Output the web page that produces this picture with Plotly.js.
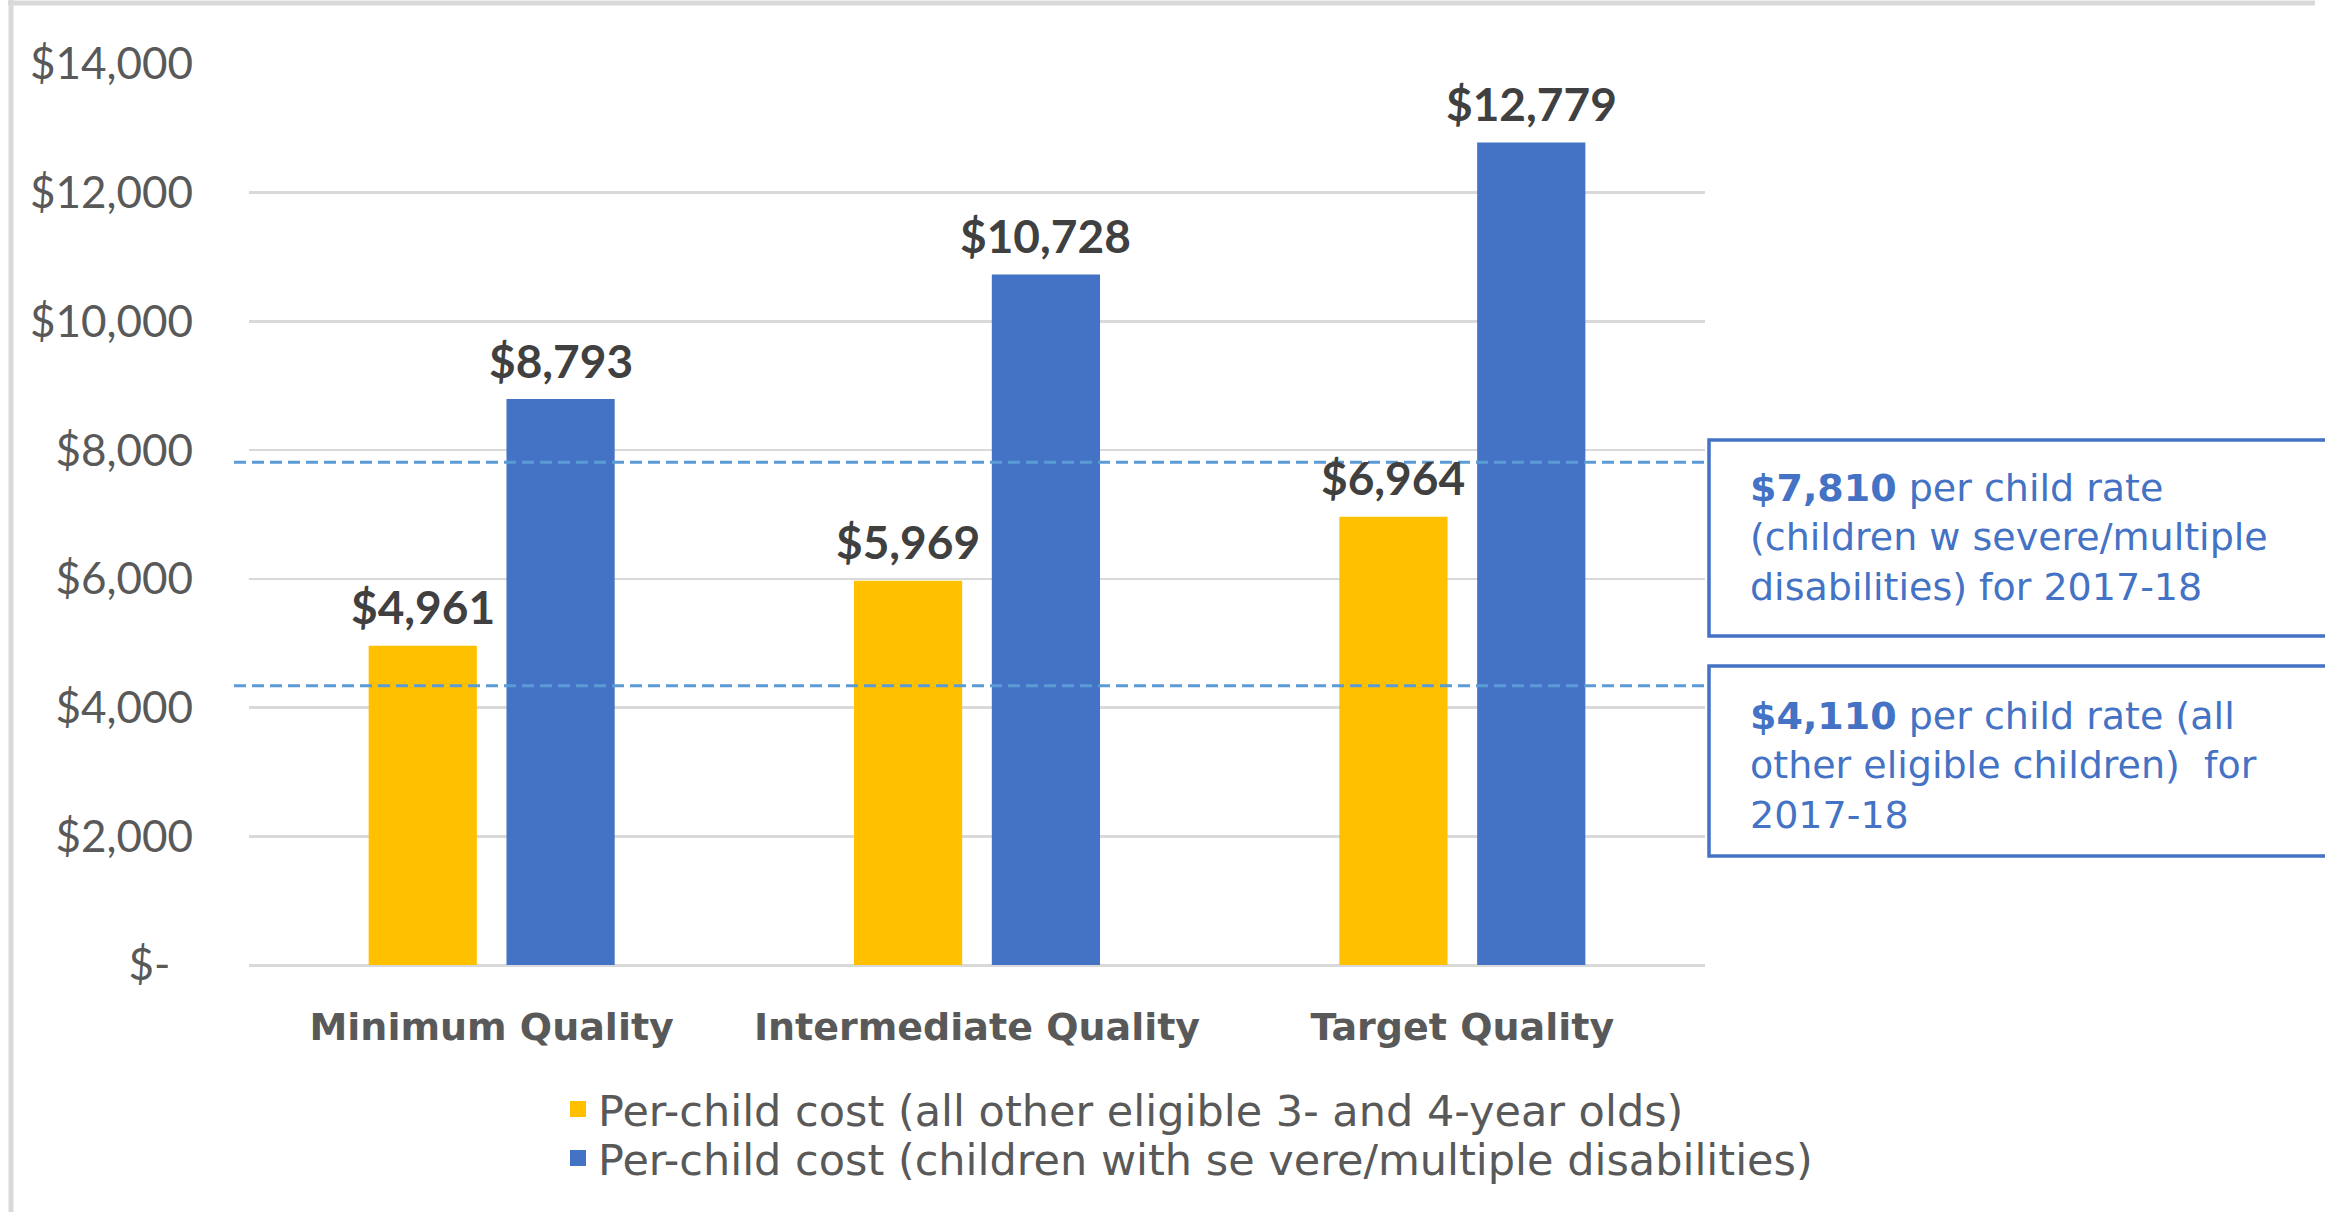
<!DOCTYPE html>
<html>
<head>
<meta charset="utf-8">
<script src="https://cdn.plot.ly/plotly-3.0.1.min.js"></script>
<style>html,body{margin:0;padding:0;background:#fff;}#chart{width:2325px;height:1212px;}</style>
</head>
<body>
<div id="chart"></div>
<script>
// ---- data ----
const categories = ['Minimum Quality', 'Intermediate Quality', 'Target Quality'];
const costOtherChildren = [4961, 5969, 6964];
const costDisabilities = [8793, 10728, 12779];
const seriesNames = [
  'Per-child cost (all other eligible 3- and 4-year olds)',
  'Per-child cost (children with se vere/multiple disabilities)'
];
const seriesColors = ['#FFC000', '#4472C4'];
const rateValues = [7810, 4110];           // rates quoted in the boxes
const rateLineLevels = [7810, 4340];       // levels at which the dashed rate lines sit in the picture
const rateLabels = [
  ' per child rate<br>(children w severe/multiple<br>disabilities) for 2017-18',
  ' per child rate (all<br>other eligible children)  for<br>2017-18'
];
const yTickVals = [0, 2000, 4000, 6000, 8000, 10000, 12000, 14000];

// ---- layout helpers ----
const W = 2325, H = 1212;
const M = {l: 249, r: 620, t: 64, b: 247};
const PW = W - M.l - M.r, PH = H - M.t - M.b;
const px = x => (x - M.l) / PW;          // pixel -> paper x
const py = y => (H - M.b - y) / PH;      // pixel -> paper y

const NUMFONT = 'Lato, "Open Sans", sans-serif';
const TXTFONT = '"DejaVu Sans", Verdana, sans-serif';
const GRAY = '#595959';
const BLUE = '#4472C4';

const fmt = v => '$' + v.toLocaleString('en-US');
const yTickText = yTickVals.map(v => v === 0 ? '$-\u00a0\u00a0' : fmt(v));

// grouped-bar geometry (category units) derived from layout gaps
const BARGAP = 0.432, BARGROUPGAP = 0.215;
const slot = (1 - BARGAP) / 2;

const seriesValues = [costOtherChildren, costDisabilities];
const traces = [];
seriesValues.forEach((vals, s) => {
  traces.push({type: 'bar', name: seriesNames[s], x: categories, y: vals,
    marker: {color: seriesColors[s]}, showlegend: false, hoverinfo: 'skip'});
});
// legend entries (square markers)
seriesNames.forEach((n, s) => {
  traces.push({type: 'scatter', mode: 'markers', name: n, x: [null], y: [null],
    marker: {symbol: 'square', size: 21, color: seriesColors[s]},
    legend: s === 0 ? 'legend' : 'legend2', showlegend: true, hoverinfo: 'skip'});
});

const shapes = [];
const annotations = [];
// data labels above bars
seriesValues.forEach((vals, s) => {
  vals.forEach((v, i) => {
    annotations.push({xref: 'x', yref: 'y', x: i + (s === 0 ? -slot / 2 : slot / 2), y: v,
      yanchor: 'middle', xanchor: 'center', yshift: 39, showarrow: false, text: '<b>' + fmt(v) + '</b>',
      font: {family: NUMFONT, size: 46, color: '#404040'}});
  });
});
// dashed rate lines
rateLineLevels.forEach(v => {
  shapes.push({type: 'line', xref: 'paper', yref: 'y', x0: px(234), x1: px(1709), y0: v, y1: v,
    line: {color: '#5B9BD5', width: 3, dash: '12px,6px'}, layer: 'above'});
});
// rate boxes
const boxes = [[440, 636], [666, 856]];
const textTop = [464, 692];
boxes.forEach((b, i) => {
  shapes.push({type: 'rect', xref: 'paper', yref: 'paper', x0: px(1709), x1: px(2340),
    y0: py(b[1]), y1: py(b[0]), line: {color: BLUE, width: 3.5}, fillcolor: 'rgba(0,0,0,0)'});
  annotations.push({xref: 'paper', yref: 'paper', x: px(1748), y: py(textTop[i]),
    xanchor: 'left', yanchor: 'top', align: 'left', showarrow: false,
    text: '<b>' + fmt(rateValues[i]) + '</b>' + rateLabels[i],
    font: {family: TXTFONT, size: 38, color: BLUE}});
});
// outer frame (top and left edges visible)
shapes.push({type: 'line', xref: 'paper', yref: 'paper', x0: px(8), x1: px(2315), y0: py(3), y1: py(3),
  line: {color: '#D9D9D9', width: 5}});
shapes.push({type: 'line', xref: 'paper', yref: 'paper', x0: px(11), x1: px(11), y0: py(0), y1: py(1212),
  line: {color: '#D9D9D9', width: 5}});

const legendBase = {xanchor: 'left', yanchor: 'middle', orientation: 'v',
  font: {family: TXTFONT, size: 43, color: GRAY}, bgcolor: 'rgba(0,0,0,0)', itemsizing: 'trace'};

const layout = {
  width: W, height: H, margin: M,
  paper_bgcolor: '#fff', plot_bgcolor: '#fff',
  barmode: 'group', bargap: BARGAP, bargroupgap: BARGROUPGAP,
  font: {family: TXTFONT, color: GRAY},
  showlegend: true,
  legend: Object.assign({}, legendBase, {x: px(558), y: py(1109)}),
  legend2: Object.assign({}, legendBase, {x: px(558), y: py(1158)}),
  xaxis: {type: 'category', range: [-0.5, 2.5], showgrid: false, zeroline: false, showline: false, ticks: '',
    ticklabelstandoff: 36,
    tickfont: {family: TXTFONT, size: 38, color: GRAY, weight: 'bold'}},
  yaxis: {range: [0, 14000], tickvals: yTickVals, ticktext: yTickText,
    showgrid: true, gridcolor: '#D9D9D9', gridwidth: 2.5,
    zeroline: true, zerolinecolor: '#D9D9D9', zerolinewidth: 3,
    showline: false, ticks: '', ticklabelstandoff: 55,
    tickfont: {family: NUMFONT, size: 44, color: GRAY}},
  shapes: shapes,
  annotations: annotations
};

Plotly.newPlot('chart', traces, layout, {displayModeBar: false, staticPlot: true});
</script>
</body>
</html>
